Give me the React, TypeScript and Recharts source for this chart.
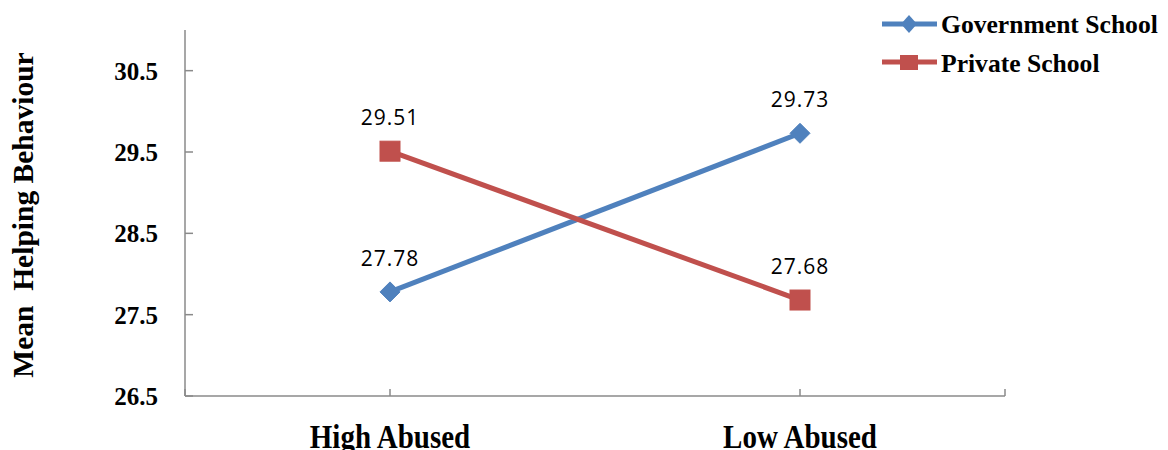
import React from 'react';
import { LineChart, Line, XAxis, YAxis, Legend } from 'recharts';

const categories = ['High Abused', 'Low Abused'];
const governmentValues = [27.78, 29.73];
const privateValues = [29.51, 27.68];
const yTicks = [26.5, 27.5, 28.5, 29.5, 30.5];
const xTickPositions = [0, 1, 3, 4];
const seriesNames = ['Government School', 'Private School'];

const BLUE = '#4F81BD';
const RED = '#C0504D';
const AXIS = '#8A8A8A';
const SERIF = '"Liberation Serif", "Times New Roman", serif';
const SANS = '"Open Sans", "Noto Sans", sans-serif';

const data = categories.map((cat, i) => ({
  pos: 2 * i + 1,
  cat,
  gov: governmentValues[i],
  priv: privateValues[i],
}));

const Diamond = (props: any) => {
  const { cx, cy } = props;
  if (cx == null || cy == null) return null;
  return (
    <polygon
      points={`${cx},${cy - 10} ${cx + 10},${cy} ${cx},${cy + 10} ${cx - 10},${cy}`}
      fill={BLUE}
      stroke={BLUE}
      strokeWidth={1}
    />
  );
};

const Square = (props: any) => {
  const { cx, cy } = props;
  if (cx == null || cy == null) return null;
  return <rect x={cx - 10} y={cy - 10} width={20} height={20} fill={RED} stroke={RED} strokeWidth={1} />;
};

const ValueLabel = (props: any) => {
  const { x, y, value } = props;
  if (x == null || y == null) return null;
  return (
    <text
      x={x}
      y={y - 26}
      textAnchor="middle"
      fontFamily={SANS}
      fontSize={21}
      letterSpacing={1}
      fill="#000"
    >
      {Number(value).toFixed(2)}
    </text>
  );
};

const XTick = (props: any) => {
  const { x, y, payload } = props;
  const idx = (payload.value - 1) / 2;
  const label = categories[idx];
  if (!label) return null;
  return (
    <g transform={`translate(${x},${y + 59}) scale(1,1.15)`}>
      <text x={0} y={0} textAnchor="middle" fontFamily={SERIF} fontWeight="bold" fontSize={29} fill="#000">
        {label}
      </text>
    </g>
  );
};

const YTitle = () => (
  <text
    x={33}
    y={215}
    transform="rotate(-90 33 215)"
    textAnchor="middle"
    fontFamily={SERIF}
    fontWeight="bold"
    fontSize={29.5}
    fill="#000"
    style={{ whiteSpace: 'pre' }}
  >
    {'Mean\u00A0\u00A0Helping Behaviour'}
  </text>
);

const LegendContent = () => (
  <svg width={298} height={90} style={{ display: 'block' }}>
    <line x1={12} y1={24} x2={67} y2={24} stroke={BLUE} strokeWidth={5} />
    <polygon points={`39,15 47,24 39,33 31,24`} fill={BLUE} />
    <text x={71} y={33} fontFamily={SERIF} fontWeight="bold" fontSize={25.6} fill="#000">
      {seriesNames[0]}
    </text>
    <line x1={12} y1={62} x2={67} y2={62} stroke={RED} strokeWidth={5} />
    <rect x={30} y={55} width={18} height={15} fill={RED} />
    <text x={71} y={72} fontFamily={SERIF} fontWeight="bold" fontSize={25.6} fill="#000">
      {seriesNames[1]}
    </text>
  </svg>
);

export default function App() {
  return (
    <div style={{ position: 'absolute', left: 0, top: 0, width: 1168, height: 450, background: '#fff' }}>
      <LineChart width={1168} height={450} data={data} margin={{ top: 30, right: 163, bottom: 24, left: 10 }}>
        <XAxis
          dataKey="pos"
          type="number"
          domain={[0, 4]}
          ticks={xTickPositions}
          height={30}
          stroke={AXIS}
          strokeWidth={1.5}
          tickSize={-7}
          tickMargin={0}
          tick={<XTick />}
          interval={0}
          allowDataOverflow
        />
        <YAxis
          type="number"
          domain={[26.5, 31]}
          ticks={yTicks}
          width={175}
          stroke={AXIS}
          strokeWidth={1.5}
          tickSize={-8}
          tickMargin={35}
          interval={0}
          allowDataOverflow
          tick={{ fontFamily: SERIF, fontWeight: 'bold', fontSize: 25, fill: '#000' }}
          tickFormatter={(v: number) => v.toFixed(1)}
          label={{ content: () => <YTitle /> }}
        />
        <Legend
          layout="horizontal"
          align="center"
          verticalAlign="middle"
          content={() => <LegendContent />}
          wrapperStyle={{ position: 'absolute', left: 870, top: 0, width: 298, height: 90 }}
        />
        <Line
          dataKey="gov"
          name={seriesNames[0]}
          stroke={BLUE}
          strokeWidth={5}
          dot={<Diamond />}
          activeDot={false}
          isAnimationActive={false}
          label={<ValueLabel />}
        />
        <Line
          dataKey="priv"
          name={seriesNames[1]}
          stroke={RED}
          strokeWidth={5}
          dot={<Square />}
          activeDot={false}
          isAnimationActive={false}
          label={<ValueLabel />}
        />
      </LineChart>
    </div>
  );
}
